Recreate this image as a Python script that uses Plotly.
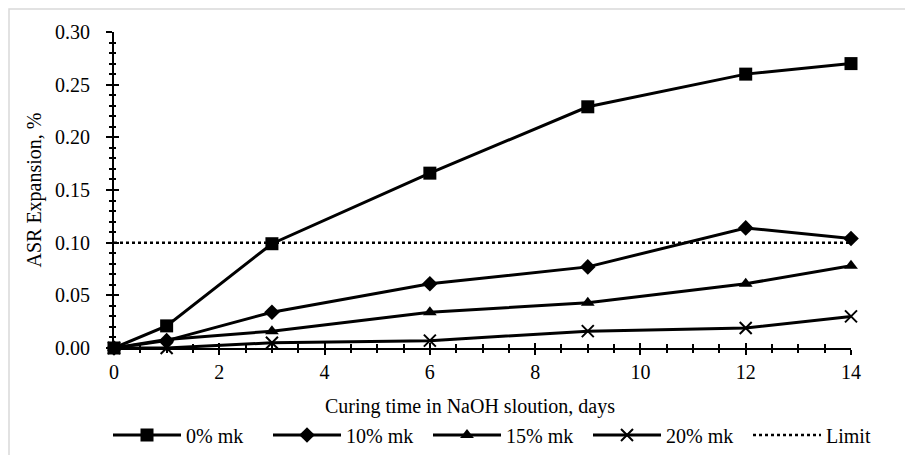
import plotly.graph_objects as go

days = [0, 1, 3, 6, 9, 12, 14]
mk0 = [0.000, 0.021, 0.099, 0.166, 0.229, 0.260, 0.270]
mk10 = [0.000, 0.007, 0.034, 0.061, 0.077, 0.114, 0.104]
mk15 = [0.000, 0.008, 0.016, 0.034, 0.043, 0.061, 0.078]
mk20 = [0.000, 0.000, 0.005, 0.007, 0.016, 0.019, 0.030]
limit_x = [0, 14]
limit_y = [0.10, 0.10]

names = ["0% mk", "10% mk", "15% mk", "20% mk", "Limit"]
FONT = "Liberation Serif"

fig = go.Figure()
series = [
    (mk0, "square", 13, 0),
    (mk10, "diamond", 12, 0),
    (mk15, "triangle-up", 12, 0),
    (mk20, "x-thin", 12, 2),
]
for (vals, sym, sz, lw), nm in zip(series, names[:4]):
    fig.add_trace(go.Scatter(
        x=days, y=vals, name=nm, mode="lines+markers",
        line=dict(color="black", width=3),
        marker=dict(symbol=sym, size=sz, color="black",
                    line=dict(color="black", width=lw)),
        cliponaxis=False,
    ))
fig.add_trace(go.Scatter(
    x=limit_x, y=limit_y, name=names[4], mode="lines",
    line=dict(color="black", width=2.5, dash="dot"),
    cliponaxis=False,
))
# helper trace for overlay axes (cross ticks)
fig.add_trace(go.Scatter(x=[None], y=[None], xaxis="x2", yaxis="y2",
                         showlegend=False, hoverinfo="skip"))

L, R, T, B = 114, 54, 32, 107
W, H = 905, 455
pw, ph = W - L - R, H - T - B

fig.update_layout(
    width=W, height=H,
    margin=dict(l=L, r=R, t=T, b=B, autoexpand=False),
    paper_bgcolor="white", plot_bgcolor="white",
    font=dict(family=FONT, size=20, color="black"),
    showlegend=True,
    legend=dict(orientation="h", x=(108 - L) / pw, xanchor="left",
                y=(H - B - 435) / ph, yanchor="middle",
                font=dict(family=FONT, size=20), itemwidth=68,
                entrywidth=77, entrywidthmode="pixels",
                tracegroupgap=0, bgcolor="rgba(0,0,0,0)"),
    xaxis=dict(range=[0, 14], dtick=2, tick0=0, showgrid=False, zeroline=False,
               showline=True, linecolor="black", linewidth=2,
               ticks="outside", ticklen=5, tickwidth=2, tickcolor="black",
               ticklabelstandoff=0,
               minor=dict(dtick=0.5, ticks="outside", ticklen=3, tickwidth=1.5,
                          tickcolor="black", showgrid=False),
               tickfont=dict(family=FONT, size=20)),
    yaxis=dict(range=[0, 0.30], dtick=0.05, tick0=0, tickformat=".2f",
               showgrid=False, zeroline=False,
               showline=True, linecolor="black", linewidth=2,
               ticks="outside", ticklen=6, tickwidth=2, tickcolor="black",
               ticklabelstandoff=12,
               minor=dict(dtick=0.01, ticks="outside", ticklen=3, tickwidth=1.5,
                          tickcolor="black", showgrid=False),
               tickfont=dict(family=FONT, size=20),
               title=dict(text="ASR Expansion, %", font=dict(family=FONT, size=20),
                          standoff=8)),
    xaxis2=dict(overlaying="x", anchor="y2", range=[0, 14], dtick=2, tick0=0,
                showgrid=False, zeroline=False, showline=False,
                showticklabels=False, ticks="inside", ticklen=5, tickwidth=2,
                tickcolor="black",
                minor=dict(dtick=0.5, ticks="inside", ticklen=4, tickwidth=1.5,
                           tickcolor="black", showgrid=False)),
    yaxis2=dict(overlaying="y", anchor="x2", range=[0, 0.30], dtick=0.05, tick0=0,
                showgrid=False, zeroline=False, showline=False,
                showticklabels=False, ticks="inside", ticklen=5, tickwidth=2,
                tickcolor="black",
                minor=dict(dtick=0.01, ticks="inside", ticklen=2, tickwidth=1.5,
                           tickcolor="black", showgrid=False)),
    annotations=[dict(text="Curing time in NaOH sloution, days",
                      xref="paper", yref="paper",
                      x=(470 - L) / pw, y=(H - B - 406) / ph,
                      xanchor="center", yanchor="middle", showarrow=False,
                      font=dict(family=FONT, size=20))],
    shapes=[dict(type="rect", xref="paper", yref="paper",
                 x0=(9 - L) / pw, x1=2, y0=-2, y1=(H - B - 9) / ph,
                 line=dict(color="#d9d9d9", width=1.5), layer="below")],
)

fig.write_html("out.html")
